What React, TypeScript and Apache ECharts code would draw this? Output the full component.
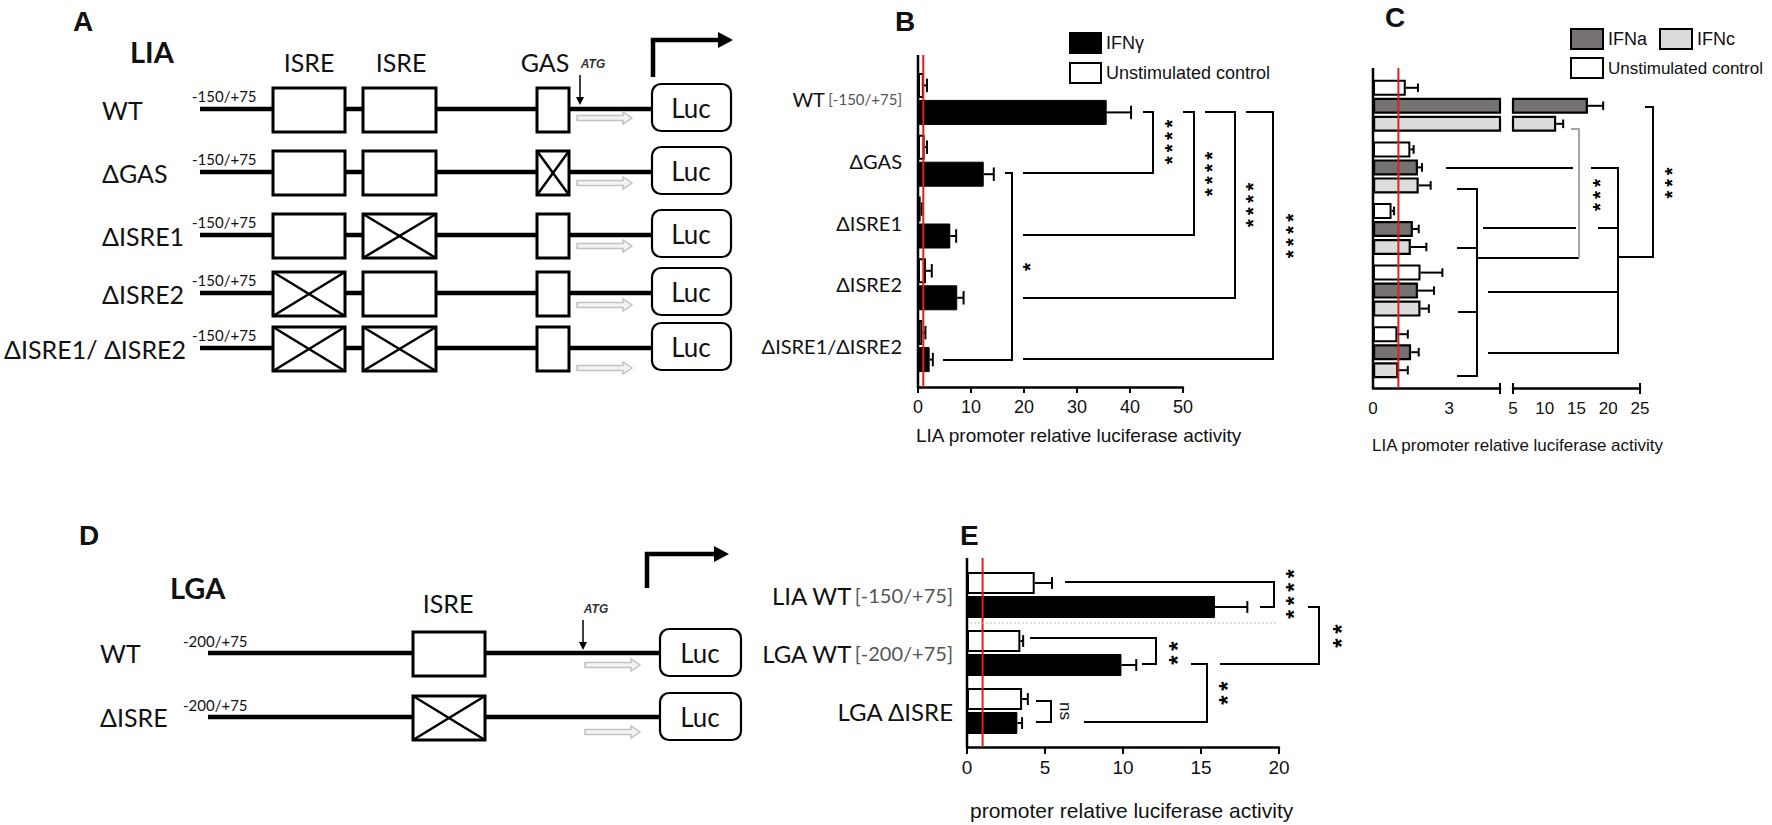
import React, { useEffect, useRef } from 'react';
import * as echarts from 'echarts';

// ---------- Panel B data ----------
const bCategories = ['WT', 'ΔGAS', 'ΔISRE1', 'ΔISRE2', 'ΔISRE1/ΔISRE2'];
const bCategoryRegion = ['[-150/+75]', '', '', '', ''];
const bUnstimMean = [1.1, 1.25, 0.5, 1.5, 0.8];
const bUnstimErr = [0.6, 0.45, 0.2, 1.1, 0.6];
const bIfngMean = [35.6, 12.4, 6.1, 7.4, 2.2];
const bIfngErr = [4.6, 1.9, 1.1, 1.2, 0.6];
const bAxisMax = 50;
const bAxisStep = 10;

// ---------- Panel C data ----------
const cGroups = ['WT', 'ΔGAS', 'ΔISRE1', 'ΔISRE2', 'ΔISRE1/ΔISRE2'];
const cUnstimMean = [1.29, 1.47, 0.73, 1.87, 0.96];
const cUnstimErr = [0.48, 0.13, 0.1, 0.86, 0.41];
const cIfnaMean = [16.8, 1.77, 1.57, 1.77, 1.5];
const cIfnaErr = [2.4, 0.16, 0.23, 0.63, 0.3];
const cIfncMean = [11.8, 1.8, 1.49, 1.87, 1.0];
const cIfncErr = [1.1, 0.47, 0.61, 0.33, 0.37];
const cLowMax = 5;
const cLowTickLabels = [0, 3];
const cHighMax = 25;
const cHighStep = 5;

// ---------- Panel E data ----------
const eCategories = ['LIA WT', 'LGA WT', 'LGA ΔISRE'];
const eCategoryRegion = ['[-150/+75]', '[-200/+75]', ''];
const eUnstimMean = [4.34, 3.42, 3.53];
const eUnstimErr = [1.11, 0.18, 0.37];
const eStimMean = [15.9, 9.9, 3.23];
const eStimErr = [2.07, 0.95, 0.3];
const eAxisMax = 20;
const eAxisStep = 5;

const referenceValue = 1;

// ---------- Diagram content (panels A, D) ----------
const aConstructs = ['WT', 'ΔGAS', 'ΔISRE1', 'ΔISRE2', 'ΔISRE1/ ΔISRE2'];
const aDeleted = [[], ['GAS'], ['ISRE2'], ['ISRE1'], ['ISRE1', 'ISRE2']];
const dConstructs = ['WT', 'ΔISRE'];
const dDeleted = [[], ['ISRE']];

const SANS = 'Liberation Sans';
const CAL = 'Lato';

function errorBars(xi: number, yi: number, means: number[], errs: number[], slot: number, nSlots: number, barW: number, gap: number, keep: (m: number, e: number) => boolean) {
  const data: number[][] = [];
  means.forEach((m, i) => { if (keep(m, errs[i])) data.push([m, i, errs[i]]); });
  return {
    type: 'custom', xAxisIndex: xi, yAxisIndex: yi, silent: true, clip: false, z: 3,
    data,
    renderItem: (params: any, api: any) => {
      const m = api.value(0), cat = api.value(1), e = api.value(2);
      const a = api.coord([m, cat]);
      const b = api.coord([m + e, cat]);
      const total = nSlots * barW + (nSlots - 1) * gap;
      const y = a[1] - total / 2 + barW / 2 + slot * (barW + gap);
      const cap = barW * 0.27;
      return {
        type: 'group', children: [
          { type: 'line', shape: { x1: a[0], y1: y, x2: b[0], y2: y }, style: { stroke: '#000', lineWidth: 2 } },
          { type: 'line', shape: { x1: b[0], y1: y - cap, x2: b[0], y2: y + cap }, style: { stroke: '#000', lineWidth: 2 } },
        ],
      };
    },
  };
}

function vLine(xi: number, yi: number, value: number, extTop: number, extBottom: number, color: string, width: number, z: number) {
  return {
    type: 'custom', xAxisIndex: xi, yAxisIndex: yi, silent: true, clip: false, z,
    data: [[value, 0]],
    renderItem: (params: any, api: any) => {
      const cs = params.coordSys;
      const x = api.coord([api.value(0), 0])[0];
      return { type: 'line', shape: { x1: x, y1: cs.y - extTop, x2: x, y2: cs.y + cs.height + extBottom }, style: { stroke: color, lineWidth: width } };
    },
  };
}

function buildGraphic() {
  const els: any[] = [];
  const L = (x1: number, y1: number, x2: number, y2: number, w = 2, c = '#000', z = 50, dash?: number[]) =>
    els.push({ type: 'line', silent: true, z, shape: { x1, y1, x2, y2 }, style: { stroke: c, lineWidth: w, lineDash: dash } });
  const PL = (pts: number[][], w = 2, c = '#000', z = 50) =>
    els.push({ type: 'polyline', silent: true, z, shape: { points: pts }, style: { stroke: c, lineWidth: w, fill: null } });
  const PG = (pts: number[][], fill: string, stroke?: string, w = 1, z = 52) =>
    els.push({ type: 'polygon', silent: true, z, shape: { points: pts }, style: { fill, stroke, lineWidth: w } });
  const R = (x: number, y: number, w: number, h: number, lw = 3, r = 0) =>
    els.push({ type: 'rect', silent: true, z: 51, shape: { x, y, width: w, height: h, r }, style: { fill: '#fff', stroke: '#000', lineWidth: lw } });
  const T = (x: number, y: number, text: string, size: number, opts: any = {}, rotation = 0) =>
    els.push({ type: 'text', silent: true, z: 55, x, y, rotation, style: { text, fontSize: size, fontFamily: CAL, fill: '#111', textAlign: 'left', textVerticalAlign: 'middle', ...opts } });
  const grayArrow = (x0: number, x1: number, y: number) =>
    PG([[x0, y - 2.5], [x1 - 9, y - 2.5], [x1 - 9, y - 6], [x1, y], [x1 - 9, y + 6], [x1 - 9, y + 2.5], [x0, y + 2.5]], '#f3f3f3', '#c2c2c2', 1.5);
  // significance stars: one rotated text per stack; bold asterisk + thin space ≈ 0.589 em per star
  const stars = (x: number, yc: number, n: number, spacing: number) => {
    const size = spacing / 0.589;
    T(x + size * 0.23, yc, Array(n).fill('*').join('\u2009'), size, { fontFamily: SANS, fontWeight: 'bold', textAlign: 'center', fill: '#000' }, Math.PI / 2);
  };
  const cross = (x: number, y: number, w: number, h: number) => {
    L(x, y, x + w, y + h, 2.5, '#000', 53);
    L(x, y + h, x + w, y, 2.5, '#000', 53);
  };

  // ----- Panel letters -----
  const bold = { fontFamily: SANS, fontWeight: 'bold' };
  T(73, 21, 'A', 28, bold);
  T(895, 21, 'B', 28, bold);
  T(1385, 17, 'C', 28, bold);
  T(79, 535, 'D', 28, bold);
  T(960, 535, 'E', 28, bold);

  // ----- Panel A diagram -----
  T(130, 51, 'LIA', 29, { fontWeight: 'bold' });
  T(309, 62, 'ISRE', 25, { textAlign: 'center' });
  T(401, 62, 'ISRE', 25, { textAlign: 'center' });
  T(545, 62, 'GAS', 25, { textAlign: 'center' });
  T(593, 64, 'ATG', 12, { fontFamily: SANS, fontStyle: 'italic', fontWeight: 'bold', fill: '#333', textAlign: 'center' });
  L(580, 75, 580, 99, 1.5, '#000', 52);
  PG([[576, 97], [584, 97], [580, 105]], '#000');
  PL([[653, 77], [653, 40], [720, 40]], 4.5);
  PG([[718, 32], [733, 40], [718, 48]], '#000');
  const aRowY = [109, 172, 235, 293, 348];
  const aArrowY = [118, 183, 246, 305, 368];
  const aBoxes: [string, number, number][] = [['ISRE1', 273, 72], ['ISRE2', 363, 73], ['GAS', 537, 32]];
  aConstructs.forEach((name, i) => {
    const y = aRowY[i];
    if (i < aConstructs.length - 1) T(102, y + 1, name, 25);
    else T(186, y + 1, name, 25, { textAlign: 'right' });
    T(192, y - 13, '-150/+75', 15);
    L(200, y, 652, y, 4.5);
    aBoxes.forEach(([key, bx, bw]) => {
      R(bx, y - 21, bw, 44, 3);
      if (aDeleted[i].includes(key)) cross(bx, y - 21, bw, 44);
    });
    grayArrow(577, 632, aArrowY[i]);
    R(652, y - 25, 79, 47, 2.2, 9);
    T(691, y - 1.5, 'Luc', 26, { textAlign: 'center' });
  });

  // ----- Panel D diagram -----
  const dy = 10;
  T(170, 577 + dy, 'LGA', 29, { fontWeight: 'bold' });
  T(448, 593 + dy, 'ISRE', 25, { textAlign: 'center' });
  T(596, 599 + dy, 'ATG', 12, { fontFamily: SANS, fontStyle: 'italic', fontWeight: 'bold', fill: '#333', textAlign: 'center' });
  L(583, 610 + dy, 583, 634 + dy, 1.5, '#000', 52);
  PG([[579, 632 + dy], [587, 632 + dy], [583, 640 + dy]], '#000');
  PL([[647, 588], [647, 554], [716, 554]], 4.5);
  PG([[714, 546], [729, 554], [714, 562]], '#000');
  const dRowY = [643 + dy, 707 + dy];
  const dArrowY = [655 + dy, 722 + dy];
  dConstructs.forEach((name, i) => {
    const y = dRowY[i];
    T(100, y, name, 25);
    T(183, y - 12, '-200/+75', 15);
    L(208, y, 660, y, 4.5);
    R(413, y - 21, 72, 44, 3);
    if (dDeleted[i].includes('ISRE')) cross(413, y - 21, 72, 44);
    grayArrow(585, 640, dArrowY[i]);
    R(660, y - 24, 81, 47, 2.2, 9);
    T(700, y, 'Luc', 26, { textAlign: 'center' });
  });

  // ----- Axis titles -----
  T(916, 435, 'LIA promoter relative luciferase activity', 19, { fontFamily: SANS });
  T(1372, 445, 'LIA promoter relative luciferase activity', 17, { fontFamily: SANS });
  T(970, 810, 'promoter relative luciferase activity', 21, { fontFamily: SANS });

  // ----- Panel B brackets -----
  PL([[1143, 112], [1153, 112], [1153, 173], [1023, 173]]);
  PL([[1183, 112], [1194, 112], [1194, 235], [1023, 235]]);
  PL([[1205, 112], [1235, 112], [1235, 298], [1023, 298]]);
  PL([[1246, 112], [1273, 112], [1273, 359], [1023, 359]]);
  PL([[1005, 173], [1012, 173], [1012, 360], [943, 360]]);
  stars(1167, 142, 4, 12.2);
  stars(1207, 174, 4, 12.2);
  stars(1248, 205, 4, 12.2);
  stars(1288, 236, 4, 12.2);
  stars(1025, 267, 1, 12.2);

  // ----- Panel C brackets -----
  PL([[1591, 168], [1618, 168], [1618, 353], [1488, 353]]);
  L(1598, 228, 1618, 228);
  L(1488, 292, 1618, 292);
  L(1446, 168, 1573, 168);
  L(1483, 228, 1576, 228);
  PL([[1618, 257], [1653, 257], [1653, 107], [1645, 107]]);
  PL([[1457, 189], [1477, 189], [1477, 376], [1457, 376]]);
  L(1457, 248, 1477, 248);
  L(1458, 312, 1477, 312);
  L(1477, 258, 1579, 258);
  PL([[1579, 258], [1579, 129], [1571, 129]], 2, '#a6a6a6');
  stars(1667, 183, 3, 11.7);
  stars(1595, 195, 3, 12);
  // broken-axis end ticks
  L(1500, 383, 1500, 394, 2);
  L(1513, 383, 1513, 394, 2);
  L(1640, 383, 1640, 394, 2);

  // ----- Panel E brackets -----
  L(970, 623, 1277, 623, 1.2, '#bdbdbd', 50, [2, 2]);
  PL([[1065, 582], [1274, 582], [1274, 607], [1260, 607]]);
  PL([[1030, 638], [1156, 638], [1156, 664], [1142, 664]]);
  PL([[1036, 701], [1051, 701], [1051, 722], [1036, 722]]);
  PL([[1191, 664], [1207, 664], [1207, 722], [1084, 722]]);
  PL([[1220, 664], [1319, 664], [1319, 607], [1308, 607]]);
  stars(1288, 594, 4, 13.5);
  stars(1172, 653, 2, 14);
  stars(1222, 693, 2, 14);
  stars(1336, 636, 2, 14);
  T(1065, 711, 'ns', 17, { fontFamily: SANS, textAlign: 'center' }, -Math.PI / 2);

  return els;
}

function buildOption() {
  const axisLineStyle = { color: '#000', width: 2.5 };
  const white = { color: '#fff', borderColor: '#000', borderWidth: 2 };
  const black = { color: '#000', borderColor: '#000', borderWidth: 1 };
  const dark = { color: '#767272', borderColor: '#000', borderWidth: 2.2 };
  const light = { color: '#dcdcdc', borderColor: '#000', borderWidth: 2.2 };
  const noLine = { show: false };

  const catAxis = (gi: number, data: string[], labelCfg: any) => ({
    gridIndex: gi, type: 'category', inverse: true, data,
    axisLine: noLine, axisTick: noLine, splitLine: noLine, axisLabel: labelCfg,
  });

  const bLabel = {
    margin: 16,
    formatter: (v: string, i: number) => (bCategoryRegion[i] ? `{a|${v}} {b|${bCategoryRegion[i]}}` : `{a|${v}}`),
    rich: { a: { fontFamily: CAL, fontSize: 20, color: '#111' }, b: { fontFamily: CAL, fontSize: 15, color: '#555' } },
  };
  const eLabel = {
    margin: 14,
    formatter: (v: string, i: number) => (eCategoryRegion[i] ? `{a|${v}} {b|${eCategoryRegion[i]}}` : `{a|${v}}`),
    rich: { a: { fontFamily: CAL, fontSize: 24, color: '#111' }, b: { fontFamily: CAL, fontSize: 20, color: '#555' } },
  };

  const keepAll = () => true;
  const keepLow = (m: number, e: number) => m + e <= cLowMax;
  const keepHigh = (m: number) => m > cLowMax;
  const highOnly = (arr: number[]) => arr.map((v) => (v > cLowMax ? v : '-'));

  return {
    animation: false,
    backgroundColor: '#fff',
    textStyle: { fontFamily: SANS },
    grid: [
      { left: 918, top: 68, width: 265, height: 309, containLabel: false, outerBoundsMode: 'none' },
      { left: 1373, top: 75, width: 127, height: 308, containLabel: false, outerBoundsMode: 'none' },
      { left: 1513, top: 75, width: 127, height: 308, containLabel: false, outerBoundsMode: 'none' },
      { left: 967, top: 566, width: 312, height: 174, containLabel: false, outerBoundsMode: 'none' },
    ],
    xAxis: [
      {
        gridIndex: 0, type: 'value', min: 0, max: bAxisMax, interval: bAxisStep, offset: 10,
        axisLine: { show: true, lineStyle: axisLineStyle }, axisTick: { show: true, length: 6, lineStyle: { color: '#000', width: 2 } },
        axisLabel: { margin: 11, fontFamily: SANS, fontSize: 18, color: '#111' }, splitLine: noLine,
      },
      {
        gridIndex: 1, type: 'value', min: 0, max: cLowMax, interval: 1, offset: 5,
        axisLine: { show: true, lineStyle: axisLineStyle }, axisTick: noLine,
        axisLabel: { margin: 12, fontFamily: SANS, fontSize: 17, color: '#111', formatter: (v: number) => (cLowTickLabels.includes(v) ? String(v) : '') },
        splitLine: noLine,
      },
      {
        gridIndex: 2, type: 'value', min: cLowMax, max: cHighMax, interval: cHighStep, offset: 5,
        axisLine: { show: true, lineStyle: axisLineStyle }, axisTick: noLine,
        axisLabel: { margin: 12, fontFamily: SANS, fontSize: 17, color: '#111' }, splitLine: noLine,
      },
      {
        gridIndex: 3, type: 'value', min: 0, max: eAxisMax, interval: eAxisStep, offset: 7,
        axisLine: { show: true, lineStyle: axisLineStyle }, axisTick: { show: true, length: 7, lineStyle: { color: '#000', width: 2 } },
        axisLabel: { margin: 11, fontFamily: SANS, fontSize: 19, color: '#111' }, splitLine: noLine,
      },
    ],
    yAxis: [
      catAxis(0, bCategories, bLabel),
      catAxis(1, cGroups, { show: false }),
      catAxis(2, cGroups, { show: false }),
      catAxis(3, eCategories, eLabel),
    ],
    legend: [
      {
        left: 1069, top: 32, orient: 'vertical', padding: 0, itemGap: 8, itemWidth: 31, itemHeight: 20, icon: 'rect',
        selectedMode: false, data: ['IFNγ', 'Unstimulated control'],
        textStyle: { fontFamily: SANS, fontSize: 18, color: '#111' },
      },
      {
        left: 1570, top: 28, orient: 'horizontal', padding: 0, itemGap: 12, itemWidth: 32, itemHeight: 20, icon: 'rect',
        selectedMode: false, data: ['IFNa', 'IFNc'],
        textStyle: { fontFamily: SANS, fontSize: 18, color: '#111' },
      },
      {
        left: 1570, top: 57, orient: 'horizontal', padding: 0, itemWidth: 32, itemHeight: 20, icon: 'rect',
        selectedMode: false, data: ['Unstimulated control'],
        textStyle: { fontFamily: SANS, fontSize: 17, color: '#111' },
      },
    ],
    graphic: { elements: buildGraphic() },
    series: [
      // ----- B -----
      { type: 'bar', name: 'Unstimulated control', xAxisIndex: 0, yAxisIndex: 0, data: bUnstimMean, barWidth: 25, barGap: '8%', itemStyle: white, z: 2 },
      { type: 'bar', name: 'IFNγ', xAxisIndex: 0, yAxisIndex: 0, data: bIfngMean, barWidth: 25, barGap: '8%', itemStyle: black, z: 2 },
      errorBars(0, 0, bUnstimMean, bUnstimErr, 0, 2, 25, 2, keepAll),
      errorBars(0, 0, bIfngMean, bIfngErr, 1, 2, 25, 2, keepAll),
      vLine(0, 0, 0, 13, 10, '#000', 2.5, 4),
      vLine(0, 0, referenceValue, 13, 10, '#e0201b', 2, 5),
      // ----- C low segment -----
      { type: 'bar', name: 'Unstimulated control', xAxisIndex: 1, yAxisIndex: 1, data: cUnstimMean, barWidth: 16, barGap: '12.5%', itemStyle: white, z: 2 },
      { type: 'bar', name: 'IFNa', xAxisIndex: 1, yAxisIndex: 1, data: cIfnaMean, barWidth: 16, barGap: '12.5%', itemStyle: dark, z: 2 },
      { type: 'bar', name: 'IFNc', xAxisIndex: 1, yAxisIndex: 1, data: cIfncMean, barWidth: 16, barGap: '12.5%', itemStyle: light, z: 2 },
      errorBars(1, 1, cUnstimMean, cUnstimErr, 0, 3, 16, 2, keepLow),
      errorBars(1, 1, cIfnaMean, cIfnaErr, 1, 3, 16, 2, keepLow),
      errorBars(1, 1, cIfncMean, cIfncErr, 2, 3, 16, 2, keepLow),
      vLine(1, 1, 0, 7, 5, '#000', 2.5, 4),
      vLine(1, 1, referenceValue, 7, 5, '#e0201b', 2, 5),
      // ----- C high segment -----
      { type: 'bar', name: 'Unstimulated control', xAxisIndex: 2, yAxisIndex: 2, data: highOnly(cUnstimMean), barWidth: 16, barGap: '12.5%', itemStyle: white, z: 2 },
      { type: 'bar', name: 'IFNa', xAxisIndex: 2, yAxisIndex: 2, data: highOnly(cIfnaMean), barWidth: 16, barGap: '12.5%', itemStyle: dark, z: 2 },
      { type: 'bar', name: 'IFNc', xAxisIndex: 2, yAxisIndex: 2, data: highOnly(cIfncMean), barWidth: 16, barGap: '12.5%', itemStyle: light, z: 2 },
      errorBars(2, 2, cIfnaMean, cIfnaErr, 1, 3, 16, 2, keepHigh),
      errorBars(2, 2, cIfncMean, cIfncErr, 2, 3, 16, 2, keepHigh),
      // ----- E -----
      { type: 'bar', name: 'E unstimulated', xAxisIndex: 3, yAxisIndex: 3, data: eUnstimMean, barWidth: 22, barGap: '9%', itemStyle: white, z: 2 },
      { type: 'bar', name: 'E IFN stimulated', xAxisIndex: 3, yAxisIndex: 3, data: eStimMean, barWidth: 22, barGap: '9%', itemStyle: black, z: 2 },
      errorBars(3, 3, eUnstimMean, eUnstimErr, 0, 2, 22, 2, keepAll),
      errorBars(3, 3, eStimMean, eStimErr, 1, 2, 22, 2, keepAll),
      vLine(3, 3, 0, 8, 7, '#000', 2.5, 4),
      vLine(3, 3, referenceValue, 8, 7, '#e0201b', 2, 5),
    ],
  };
}

export default function App() {
  const ref = useRef<HTMLDivElement>(null);
  useEffect(() => {
    if (!ref.current) return;
    const chart = echarts.init(ref.current, undefined, { renderer: 'svg' });
    chart.setOption(buildOption() as any);
    return () => chart.dispose();
  }, []);
  return <div ref={ref} style={{ position: 'fixed', left: 0, top: 0, width: 1772, height: 825, background: '#fff' }} />;
}
